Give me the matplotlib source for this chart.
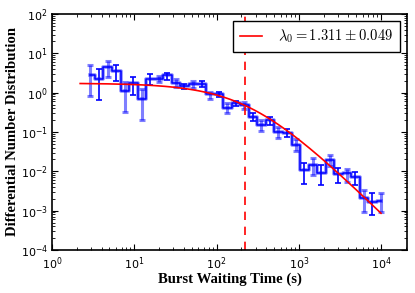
import numpy as np
import matplotlib
matplotlib.use("Agg")
import matplotlib.pyplot as plt
from matplotlib.font_manager import FontProperties

# Bin centers (s)
x_centers = [2.93, 3.72, 4.73, 6.01, 7.64, 9.70, 12.3, 15.6, 19.9, 25.2,
             32.1, 40.7, 51.8, 65.8, 83.5, 106, 135, 171, 217, 276,
             351, 446, 566, 719, 914, 1161, 1474, 1872, 2377, 3020,
             3837, 4874, 6190, 7870, 10000]
y_values = [2.86, 2.2, 4.4, 3.5, 1.08, 1.73, 0.68, 2.19, 2.19, 2.76,
            1.79, 1.5, 1.66, 1.66, 0.91, 0.92, 0.415, 0.537, 0.478, 0.245,
            0.151, 0.20, 0.102, 0.095, 0.046, 0.0108, 0.0145, 0.0092, 0.0194, 0.0085,
            0.0089, 0.0073, 0.00206, 0.00166, 0.00179]
y_upper = [4.97, 3.93, 6.5, 4.97, 1.90, 2.55, 1.22, 2.93, 2.65, 3.21,
           2.22, 1.69, 1.98, 1.98, 1.06, 1.06, 0.536, 0.61, 0.57, 0.31,
           0.20, 0.245, 0.136, 0.121, 0.065, 0.0166, 0.0214, 0.0145, 0.026, 0.0119,
           0.0112, 0.0098, 0.00335, 0.00275, 0.00275]
y_lower = [0.82, 0.65, 2.55, 1.98, 0.32, 0.87, 0.20, 1.57, 1.83, 2.10,
           1.42, 1.22, 1.31, 1.37, 0.68, 0.76, 0.30, 0.46, 0.385, 0.187,
           0.108, 0.153, 0.070, 0.076, 0.032, 0.0047, 0.0080, 0.0045, 0.0139, 0.0051,
           0.0054, 0.0045, 0.00094, 0.00077, 0.00094]

# Fit model parameters
fit_A = 1.74
fit_x0 = 250.0
fit_gamma = 2.05
fit_xmin, fit_xmax = 2.2, 1.0e4
threshold = 220.0
legend_label = r"$\lambda_0 = 1.311 \pm 0.049$"

x = np.array(x_centers)
y = np.array(y_values)
yu = np.array(y_upper)
yl = np.array(y_lower)

plt.rcParams['xtick.direction'] = 'in'
plt.rcParams['ytick.direction'] = 'in'
plt.rcParams['xtick.top'] = True
plt.rcParams['ytick.right'] = True

fig = plt.figure(figsize=(4.15, 2.93), dpi=100)
ax = fig.add_axes([52/415, 1-250/293, (407-52)/415, (250-14)/293])

# step histogram
ax.step(x, y, where='mid', color='blue', alpha=0.45, lw=2.6)
ax.step(x, y, where='mid', color='blue', lw=1.1)
for i in range(len(x)):
    err = [[y[i]-yl[i]], [yu[i]-y[i]]]
    if i % 2 == 0:
        ax.errorbar([x[i]], [y[i]], yerr=err, fmt='none', ecolor='blue', alpha=0.5,
                    elinewidth=2.2, capsize=2.5, capthick=2.2)
    else:
        ax.errorbar([x[i]], [y[i]], yerr=err, fmt='none', ecolor='blue',
                    elinewidth=1.2, capsize=2.5, capthick=1.2)

xf = np.logspace(np.log10(fit_xmin), np.log10(fit_xmax), 200)
yf = fit_A * (1 + xf/fit_x0) ** (-fit_gamma)
ax.plot(xf, yf, color='red', lw=1.2, label=legend_label)
ax.axvline(threshold, color='red', ls='--', lw=1.2, dashes=(5, 4))

ax.set_xscale('log')
ax.set_yscale('log')
ax.set_xlim(1, 2.07e4)
ax.set_ylim(1e-4, 1e2)
ax.tick_params(labelsize=8, length=4, width=0.8, pad=3)
ax.tick_params(axis='x', pad=4)
ax.tick_params(which='minor', length=2, width=0.6)
for s in ax.spines.values():
    s.set_linewidth(1.2)

ax.set_xlabel('Burst Waiting Time (s)', family='Liberation Serif', weight='bold', fontsize=10.6)
ax.set_ylabel('Differential Number Distribution', family='Liberation Serif', weight='bold', fontsize=10.6)
ax.xaxis.set_label_coords(0.5, -0.122)
ax.yaxis.set_label_coords(-0.11, 0.5)
ax.xaxis.label.set_va('center')
ax.yaxis.label.set_va('center')

lp = FontProperties(size=10.5, math_fontfamily='cm')
leg = ax.legend(loc='upper right', prop=lp, fancybox=False, framealpha=1, edgecolor='black',
                handlelength=1.5, borderpad=0.45, handletextpad=1.1, borderaxespad=0.5)
leg.get_frame().set_linewidth(1.0)

fig.savefig('out.png', dpi=100)
